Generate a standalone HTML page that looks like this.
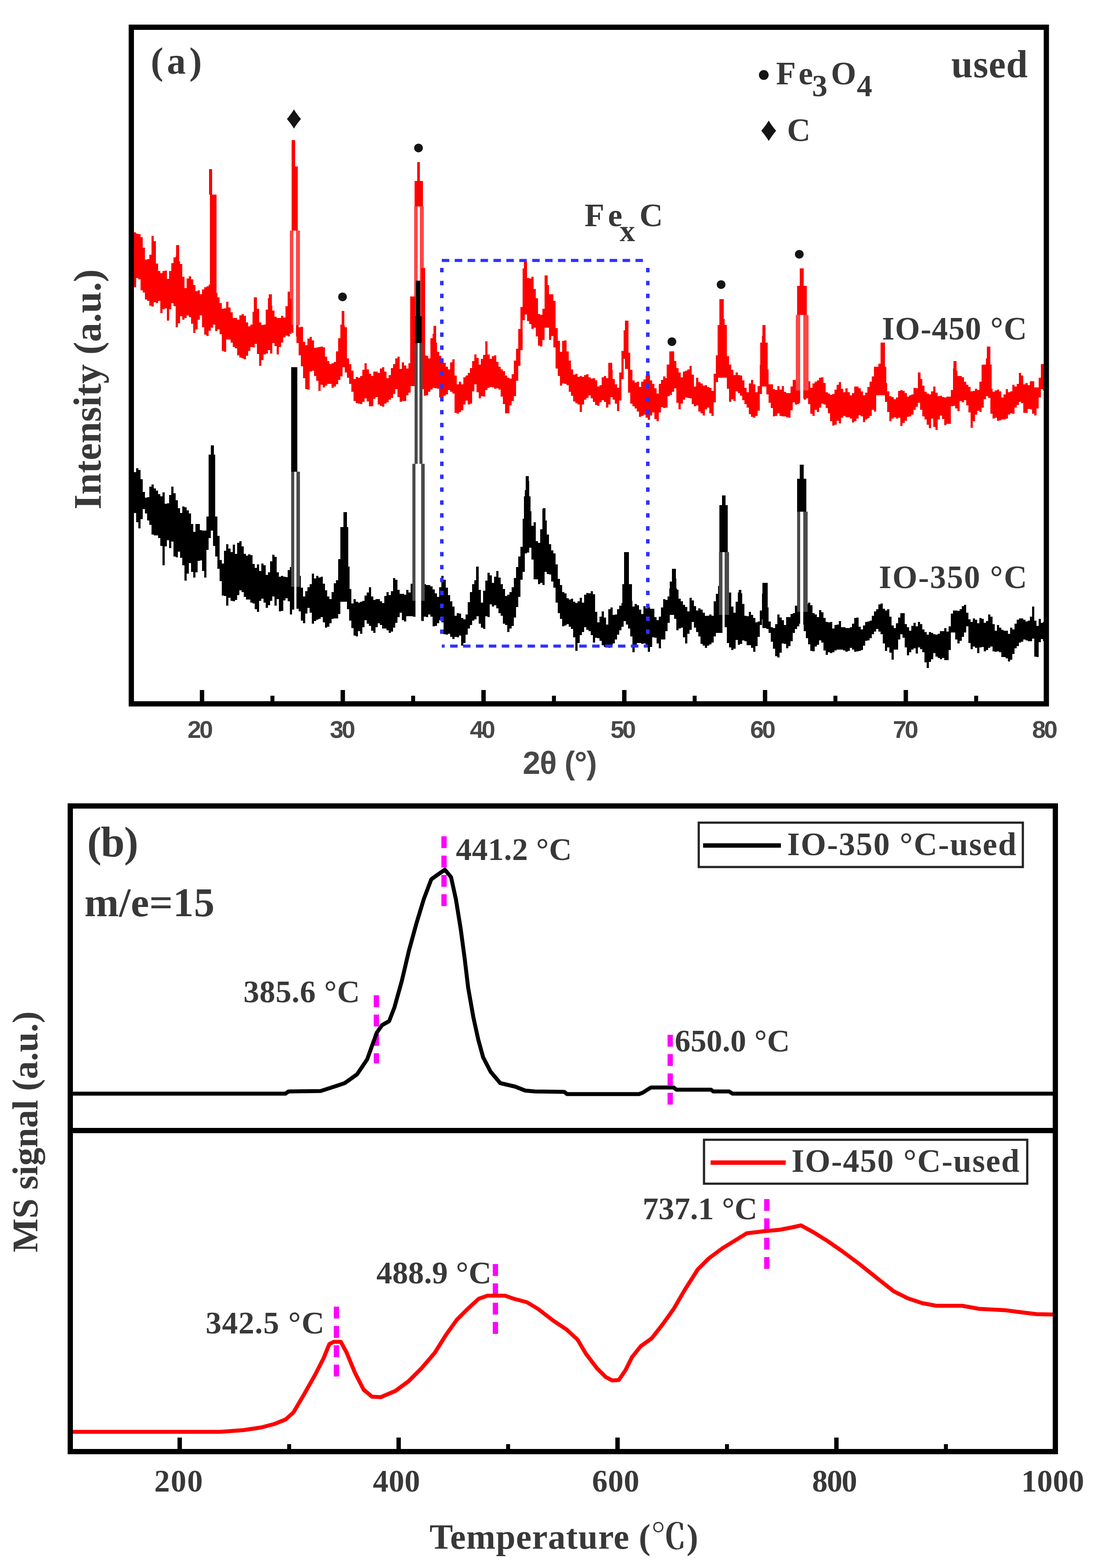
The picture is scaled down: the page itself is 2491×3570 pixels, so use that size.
<!DOCTYPE html>
<html lang="en"><head><meta charset="utf-8"><title>XRD patterns and TPH-MS profiles</title>
<style>html,body{margin:0;padding:0;background:#fff}body{width:2491px;height:3570px;overflow:hidden}svg{display:block}.s{font-family:"Liberation Serif","Noto Serif CJK SC",serif;font-weight:bold;fill:#000;fill-opacity:.78}.m{font-family:"Liberation Serif","DejaVu Sans",serif;font-weight:bold;fill:#000;fill-opacity:.92}.n{font-family:"Liberation Sans","Noto Sans CJK SC",sans-serif;font-weight:bold;fill:#000;fill-opacity:.72}</style></head><body>
<svg width="2491" height="3570" viewBox="0 0 2491 3570">
<rect width="2491" height="3570" fill="#fff"/>
<g id="chart-a">
<path d="M300 518L300 518 L305 518L305 529 L310 529L310 532 L315 532L315 533 L320 533L320 540 L325 540L325 564 L330 564L330 591 L335 591L335 590 L340 590L340 580 L345 580L345 537 L350 537L350 549 L355 549L355 600 L360 600L360 617 L365 617L365 622 L370 622L370 617 L375 617L375 616 L380 616L380 635 L385 635L385 617 L390 617L390 599 L395 599L395 586 L400 586L400 582 L405 582L405 595 L410 595L410 601 L415 601L415 630 L420 630L420 656 L425 656L425 634 L430 634L430 629 L435 629L435 636 L440 636L440 649 L445 649L445 663 L450 663L450 661 L455 661L455 670 L460 670L460 659 L465 659L465 654 L470 654L470 652 L475 652L475 648 L480 648L480 642 L485 642L485 649 L490 649L490 667 L495 667L495 677 L500 677L500 690 L505 690L505 703 L510 703L510 702 L515 702L515 687 L520 687L520 700 L525 700L525 711 L530 711L530 724 L535 724L535 724 L540 724L540 728 L545 728L545 718 L550 718L550 715 L555 715L555 719 L560 719L560 734 L565 734L565 743 L570 743L570 739 L575 739L575 710 L580 710L580 682 L585 682L585 703 L590 703L590 734 L595 734L595 740 L600 740L600 739 L605 739L605 705 L610 705L610 679 L615 679L615 696 L620 696L620 707 L625 707L625 721 L630 721L630 724 L635 724L635 724 L640 724L640 719 L645 719L645 723 L650 723L650 697 L655 697L655 664 L660 664L660 651 L665 651L665 663 L670 663L670 679 L675 679L675 703 L680 703L680 745 L685 745L685 744 L690 744L690 778 L695 778L695 786 L700 786L700 771 L705 771L705 767 L710 767L710 775 L715 775L715 792 L720 792L720 791 L725 791L725 790 L730 790L730 789 L735 789L735 791 L740 791L740 812 L745 812L745 822 L750 822L750 829 L755 829L755 827 L760 827L760 824 L765 824L765 800 L770 800L770 770 L775 770L775 739 L780 739L780 741 L785 741L785 783 L790 783L790 816 L795 816L795 829 L800 829L800 844 L805 844L805 863 L810 863L810 858 L815 858L815 860 L820 860L820 856 L825 856L825 842 L830 842L830 827 L835 827L835 841 L840 841L840 851 L845 851L845 856 L850 856L850 846 L855 846L855 846 L860 846L860 849 L865 849L865 839 L870 839L870 836 L875 836L875 846 L880 846L880 861 L885 861L885 854 L890 854L890 838 L895 838L895 829 L900 829L900 816 L905 816L905 812 L910 812L910 840 L915 840L915 825 L920 825L920 832 L925 832L925 839 L930 839L930 827 L935 827L935 809 L940 809L940 809 L945 809L945 809 L950 809L950 828 L955 828L955 828 L960 828L960 815 L965 815L965 809 L970 809L970 810 L975 810L975 816 L980 816L980 770 L985 770L985 760 L990 760L990 780 L995 780L995 801 L1000 801L1000 810 L1005 810L1005 816 L1010 816L1010 826 L1015 826L1015 835 L1020 835L1020 841 L1025 841L1025 825 L1030 825L1030 818 L1035 818L1035 855 L1040 855L1040 875 L1045 875L1045 869 L1050 869L1050 875 L1055 875L1055 859 L1060 859L1060 855 L1065 855L1065 849 L1070 849L1070 838 L1075 838L1075 822 L1080 822L1080 807 L1085 807L1085 815 L1090 815L1090 830 L1095 830L1095 817 L1100 817L1100 808 L1105 808L1105 777 L1110 777L1110 807 L1115 807L1115 817 L1120 817L1120 811 L1125 811L1125 809 L1130 809L1130 824 L1135 824L1135 835 L1140 835L1140 841 L1145 841L1145 845 L1150 845L1150 855 L1155 855L1155 860 L1160 860L1160 862 L1165 862L1165 852 L1170 852L1170 821 L1175 821L1175 794 L1180 794L1180 749 L1185 749L1185 699 L1190 699L1190 611 L1195 611L1195 600 L1200 600L1200 633 L1205 633L1205 634 L1210 634L1210 630 L1215 630L1215 658 L1220 658L1220 679 L1225 679L1225 715 L1230 715L1230 717 L1235 717L1235 703 L1240 703L1240 660 L1245 660L1245 649 L1250 649L1250 670 L1255 670L1255 670 L1260 670L1260 685 L1265 685L1265 747 L1270 747L1270 776 L1275 776L1275 801 L1280 801L1280 776 L1285 776L1285 775 L1290 775L1290 800 L1295 800L1295 821 L1300 821L1300 841 L1305 841L1305 853 L1310 853L1310 851 L1315 851L1315 858 L1320 858L1320 856 L1325 856L1325 858 L1330 858L1330 854 L1335 854L1335 852 L1340 852L1340 859 L1345 859L1345 862 L1350 862L1350 861 L1355 861L1355 866 L1360 866L1360 880 L1365 880L1365 877 L1370 877L1370 859 L1375 859L1375 856 L1380 856L1380 861 L1385 861L1385 851 L1390 851L1390 842 L1395 842L1395 863 L1400 863L1400 875 L1405 875L1405 883 L1410 883L1410 848 L1415 848L1415 799 L1420 799L1420 752 L1425 752L1425 740 L1430 740L1430 803 L1435 803L1435 842 L1440 842L1440 866 L1445 866L1445 871 L1450 871L1450 869 L1455 869L1455 881 L1460 881L1460 869 L1465 869L1465 864 L1470 864L1470 855 L1475 855L1475 854 L1480 854L1480 866 L1485 866L1485 874 L1490 874L1490 884 L1495 884L1495 896 L1500 896L1500 874 L1505 874L1505 865 L1510 865L1510 857 L1515 857L1515 861 L1520 861L1520 843 L1525 843L1525 824 L1530 824L1530 825 L1535 825L1535 822 L1540 822L1540 838 L1545 838L1545 848 L1550 848L1550 859 L1555 859L1555 846 L1560 846L1560 844 L1565 844L1565 841 L1570 841L1570 833 L1575 833L1575 853 L1580 853L1580 880 L1585 880L1585 860 L1590 860L1590 870 L1595 870L1595 873 L1600 873L1600 878 L1605 878L1605 877 L1610 877L1610 881 L1615 881L1615 883 L1620 883L1620 890 L1625 890L1625 851 L1630 851L1630 809 L1635 809L1635 770 L1640 770L1640 694 L1645 694L1645 726 L1650 726L1650 758 L1655 758L1655 811 L1660 811L1660 830 L1665 830L1665 842 L1670 842L1670 854 L1675 854L1675 848 L1680 848L1680 854 L1685 854L1685 855 L1690 855L1690 866 L1695 866L1695 883 L1700 883L1700 893 L1705 893L1705 873 L1710 873L1710 865 L1715 865L1715 875 L1720 875L1720 893 L1725 893L1725 879 L1730 879L1730 831 L1735 831L1735 765 L1740 765L1740 786 L1745 786L1745 841 L1750 841L1750 875 L1755 875L1755 875 L1760 875L1760 886 L1765 886L1765 888 L1770 888L1770 879 L1775 879L1775 887 L1780 887L1780 879 L1785 879L1785 892 L1790 892L1790 895 L1795 895L1795 895 L1800 895L1800 880 L1805 880L1805 865 L1810 865L1810 865 L1815 865L1815 860 L1820 860L1820 860 L1825 860L1825 860 L1830 860L1830 873 L1835 873L1835 871 L1840 871L1840 868 L1845 868L1845 883 L1850 883L1850 873 L1855 873L1855 869 L1860 869L1860 866 L1865 866L1865 860 L1870 860L1870 859 L1875 859L1875 872 L1880 872L1880 893 L1885 893L1885 896 L1890 896L1890 899 L1895 899L1895 897 L1900 897L1900 887 L1905 887L1905 876 L1910 876L1910 870 L1915 870L1915 885 L1920 885L1920 893 L1925 893L1925 884 L1930 884L1930 893 L1935 893L1935 900 L1940 900L1940 895 L1945 895L1945 880 L1950 880L1950 880 L1955 880L1955 884 L1960 884L1960 891 L1965 891L1965 900 L1970 900L1970 894 L1975 894L1975 881 L1980 881L1980 869 L1985 869L1985 857 L1990 857L1990 846 L1995 846L1995 837 L2000 837L2000 828 L2005 828L2005 802 L2010 802L2010 819 L2015 819L2015 872 L2020 872L2020 891 L2025 891L2025 902 L2030 902L2030 904 L2035 904L2035 909 L2040 909L2040 905 L2045 905L2045 890 L2050 890L2050 888 L2055 888L2055 890 L2060 890L2060 895 L2065 895L2065 903 L2070 903L2070 900 L2075 900L2075 898 L2080 898L2080 883 L2085 883L2085 884 L2090 884L2090 863 L2095 863L2095 863 L2100 863L2100 878 L2105 878L2105 892 L2110 892L2110 896 L2115 896L2115 898 L2120 898L2120 891 L2125 891L2125 880 L2130 880L2130 894 L2135 894L2135 902 L2140 902L2140 901 L2145 901L2145 904 L2150 904L2150 905 L2155 905L2155 903 L2160 903L2160 903 L2165 903L2165 888 L2170 888L2170 839 L2175 839L2175 844 L2180 844L2180 856 L2185 856L2185 856 L2190 856L2190 859 L2195 859L2195 869 L2200 869L2200 876 L2205 876L2205 881 L2210 881L2210 891 L2215 891L2215 890 L2220 890L2220 885 L2225 885L2225 888 L2230 888L2230 869 L2235 869L2235 831 L2240 831L2240 833 L2245 833L2245 816 L2250 816L2250 818 L2255 818L2255 885 L2260 885L2260 892 L2265 892L2265 889 L2270 889L2270 887 L2275 887L2275 891 L2280 891L2280 905 L2285 905L2285 898 L2290 898L2290 886 L2295 886L2295 893 L2300 893L2300 891 L2305 891L2305 876 L2310 876L2310 880 L2315 880L2315 874 L2320 874L2320 849 L2325 849L2325 855 L2330 855L2330 875 L2335 875L2335 872 L2340 872L2340 877 L2345 877L2345 868 L2350 868L2350 868 L2355 868L2355 882 L2360 882L2360 882 L2365 882L2365 860 L2370 860L2370 829 L2375 829L2375 829 L2380 829L2380 829 L2382 829L2382 889 L2380 889L2380 889 L2375 889L2375 886 L2370 886L2370 905 L2365 905L2365 930 L2360 930L2360 946 L2355 946L2355 942 L2350 942L2350 932 L2345 932L2345 931 L2340 931L2340 940 L2335 940L2335 940 L2330 940L2330 918 L2325 918L2325 915 L2320 915L2320 922 L2315 922L2315 928 L2310 928L2310 942 L2305 942L2305 941 L2300 941L2300 944 L2295 944L2295 953 L2290 953L2290 955 L2285 955L2285 955 L2280 955L2280 957 L2275 957L2275 958 L2270 958L2270 951 L2265 951L2265 953 L2260 953L2260 942 L2255 942L2255 906 L2250 906L2250 902 L2245 902L2245 909 L2240 909L2240 928 L2235 928L2235 938 L2230 938L2230 935 L2225 935L2225 944 L2220 944L2220 959 L2215 959L2215 974 L2210 974L2210 939 L2205 939L2205 923 L2200 923L2200 911 L2195 911L2195 916 L2190 916L2190 913 L2185 913L2185 936 L2180 936L2180 930 L2175 930L2175 924 L2170 924L2170 925 L2165 925L2165 965 L2160 965L2160 965 L2155 965L2155 968 L2150 968L2150 954 L2145 954L2145 946 L2140 946L2140 955 L2135 955L2135 979 L2130 979L2130 972 L2125 972L2125 953 L2120 953L2120 975 L2115 975L2115 967 L2110 967L2110 955 L2105 955L2105 948 L2100 948L2100 933 L2095 933L2095 917 L2090 917L2090 926 L2085 926L2085 933 L2080 933L2080 944 L2075 944L2075 948 L2070 948L2070 949 L2065 949L2065 958 L2060 958L2060 963 L2055 963L2055 970 L2050 970L2050 951 L2045 951L2045 953 L2040 953L2040 950 L2035 950L2035 953 L2030 953L2030 959 L2025 959L2025 938 L2020 938L2020 915 L2015 915L2015 880 L2010 880L2010 867 L2005 867L2005 870 L2000 870L2000 894 L1995 894L1995 937 L1990 937L1990 933 L1985 933L1985 947 L1980 947L1980 952 L1975 952L1975 955 L1970 955L1970 961 L1965 961L1965 948 L1960 948L1960 945 L1955 945L1955 953 L1950 953L1950 959 L1945 959L1945 962 L1940 962L1940 953 L1935 953L1935 950 L1930 950L1930 950 L1925 950L1925 947 L1920 947L1920 951 L1915 951L1915 964 L1910 964L1910 958 L1905 958L1905 967 L1900 967L1900 969 L1895 969L1895 959 L1890 959L1890 941 L1885 941L1885 929 L1880 929L1880 921 L1875 921L1875 919 L1870 919L1870 928 L1865 928L1865 938 L1860 938L1860 933 L1855 933L1855 947 L1850 947L1850 942 L1845 942L1845 920 L1840 920L1840 907 L1835 907L1835 910 L1830 910L1830 907 L1825 907L1825 917 L1820 917L1820 920 L1815 920L1815 921 L1810 921L1810 916 L1805 916L1805 934 L1800 934L1800 951 L1795 951L1795 950 L1790 950L1790 948 L1785 948L1785 948 L1780 948L1780 947 L1775 947L1775 941 L1770 941L1770 947 L1765 947L1765 948 L1760 948L1760 929 L1755 929L1755 917 L1750 917L1750 898 L1745 898L1745 849 L1740 849L1740 844 L1735 844L1735 897 L1730 897L1730 935 L1725 935L1725 947 L1720 947L1720 951 L1715 951L1715 949 L1710 949L1710 943 L1705 943L1705 928 L1700 928L1700 920 L1695 920L1695 911 L1690 911L1690 901 L1685 901L1685 895 L1680 895L1680 891 L1675 891L1675 913 L1670 913L1670 909 L1665 909L1665 915 L1660 915L1660 885 L1655 885L1655 834 L1650 834L1650 815 L1645 815L1645 802 L1640 802L1640 837 L1635 837L1635 870 L1630 870L1630 916 L1625 916L1625 947 L1620 947L1620 941 L1615 941L1615 928 L1610 928L1610 932 L1605 932L1605 946 L1600 946L1600 941 L1595 941L1595 937 L1590 937L1590 923 L1585 923L1585 925 L1580 925L1580 920 L1575 920L1575 907 L1570 907L1570 906 L1565 906L1565 905 L1560 905L1560 910 L1555 910L1555 919 L1550 919L1550 932 L1545 932L1545 917 L1540 917L1540 884 L1535 884L1535 892 L1530 892L1530 899 L1525 899L1525 902 L1520 902L1520 928 L1515 928L1515 929 L1510 929L1510 927 L1505 927L1505 939 L1500 939L1500 959 L1495 959L1495 954 L1490 954L1490 939 L1485 939L1485 946 L1480 946L1480 956 L1475 956L1475 951 L1470 951L1470 944 L1465 944L1465 947 L1460 947L1460 949 L1455 949L1455 937 L1450 937L1450 930 L1445 930L1445 925 L1440 925L1440 919 L1435 919L1435 894 L1430 894L1430 811 L1425 811L1425 817 L1420 817L1420 863 L1415 863L1415 912 L1410 912L1410 936 L1405 936L1405 919 L1400 919L1400 910 L1395 910L1395 904 L1390 904L1390 921 L1385 921L1385 928 L1380 928L1380 915 L1375 915L1375 911 L1370 911L1370 916 L1365 916L1365 924 L1360 924L1360 922 L1355 922L1355 915 L1350 915L1350 907 L1345 907L1345 900 L1340 900L1340 906 L1335 906L1335 910 L1330 910L1330 921 L1325 921L1325 938 L1320 938L1320 921 L1315 921L1315 918 L1310 918L1310 914 L1305 914L1305 901 L1300 901L1300 892 L1295 892L1295 877 L1290 877L1290 874 L1285 874L1285 873 L1280 873L1280 878 L1275 878L1275 856 L1270 856L1270 839 L1265 839L1265 791 L1260 791L1260 765 L1255 765L1255 774 L1250 774L1250 746 L1245 746L1245 746 L1240 746L1240 774 L1235 774L1235 789 L1230 789L1230 787 L1225 787L1225 766 L1220 766L1220 746 L1215 746L1215 749 L1210 749L1210 738 L1205 738L1205 731 L1200 731L1200 716 L1195 716L1195 729 L1190 729L1190 797 L1185 797L1185 833 L1180 833L1180 867 L1175 867L1175 902 L1170 902L1170 913 L1165 913L1165 923 L1160 923L1160 941 L1155 941L1155 941 L1150 941L1150 920 L1145 920L1145 903 L1140 903L1140 887 L1135 887L1135 884 L1130 884L1130 885 L1125 885L1125 882 L1120 882L1120 881 L1115 881L1115 883 L1110 883L1110 888 L1105 888L1105 903 L1100 903L1100 902 L1095 902L1095 907 L1090 907L1090 893 L1085 893L1085 875 L1080 875L1080 891 L1075 891L1075 919 L1070 919L1070 921 L1065 921L1065 912 L1060 912L1060 921 L1055 921L1055 934 L1050 934L1050 938 L1045 938L1045 942 L1040 942L1040 940 L1035 940L1035 896 L1030 896L1030 892 L1025 892L1025 888 L1020 888L1020 898 L1015 898L1015 901 L1010 901L1010 906 L1005 906L1005 905 L1000 905L1000 885 L995 885L995 884 L990 884L990 883 L985 883L985 887 L980 887L980 892 L975 892L975 900 L970 900L970 901 L965 901L965 886 L960 886L960 884 L955 884L955 881 L950 881L950 881 L945 881L945 879 L940 879L940 879 L935 879L935 894 L930 894L930 900 L925 900L925 913 L920 913L920 913 L915 913L915 915 L910 915L910 904 L905 904L905 886 L900 886L900 897 L895 897L895 906 L890 906L890 910 L885 910L885 916 L880 916L880 919 L875 919L875 926 L870 926L870 924 L865 924L865 921 L860 921L860 904 L855 904L855 908 L850 908L850 925 L845 925L845 925 L840 925L840 914 L835 914L835 907 L830 907L830 915 L825 915L825 920 L820 920L820 919 L815 919L815 918 L810 918L810 913 L805 913L805 892 L800 892L800 874 L795 874L795 860 L790 860L790 848 L785 848L785 836 L780 836L780 857 L775 857L775 865 L770 865L770 875 L765 875L765 880 L760 880L760 883 L755 883L755 874 L750 874L750 874 L745 874L745 878 L740 878L740 882 L735 882L735 876 L730 876L730 890 L725 890L725 867 L720 867L720 856 L715 856L715 844 L710 844L710 846 L705 846L705 887 L700 887L700 886 L695 886L695 861 L690 861L690 834 L685 834L685 809 L680 809L680 781 L675 781L675 766 L670 766L670 758 L665 758L665 756 L660 756L660 766 L655 766L655 764 L650 764L650 768 L645 768L645 780 L640 780L640 790 L635 790L635 807 L630 807L630 788 L625 788L625 781 L620 781L620 805 L615 805L615 797 L610 797L610 805 L605 805L605 807 L600 807L600 820 L595 820L595 833 L590 833L590 806 L585 806L585 783 L580 783L580 791 L575 791L575 790 L570 790L570 799 L565 799L565 810 L560 810L560 818 L555 818L555 816 L550 816L550 814 L545 814L545 809 L540 809L540 793 L535 793L535 790 L530 790L530 780 L525 780L525 773 L520 773L520 773 L515 773L515 801 L510 801L510 799 L505 799L505 761 L500 761L500 750 L495 750L495 754 L490 754L490 739 L485 739L485 746 L480 746L480 753 L475 753L475 765 L470 765L470 762 L465 762L465 745 L460 745L460 718 L455 718L455 728 L450 728L450 750 L445 750L445 758 L440 758L440 737 L435 737L435 722 L430 722L430 718 L425 718L425 724 L420 724L420 728 L415 728L415 720 L410 720L410 736 L405 736L405 745 L400 745L400 697 L395 697L395 690 L390 690L390 704 L385 704L385 730 L380 730L380 702 L375 702L375 704 L370 704L370 713 L365 713L365 685 L360 685L360 690 L355 690L355 688 L350 688L350 698 L345 698L345 696 L340 696L340 685 L335 685L335 682 L330 682L330 666 L325 666L325 661 L320 661L320 636 L315 636L315 633 L310 633L310 654 L305 654L305 659 L300 659Z" fill="#ff0000"/>
<rect x="476" y="385" width="7" height="58" fill="#ff0000"/><rect x="478" y="443" width="15" height="247" fill="#ff0000"/>
<rect x="668" y="525" width="6" height="271" fill="#fff"/><rect x="664" y="319" width="8" height="60" fill="#ff0000"/><rect x="664" y="379" width="14" height="146" fill="#ff0000"/><rect x="668" y="525" width="6" height="215" fill="#fff"/><rect x="660" y="525" width="8" height="215" fill="#ff4646"/><rect x="674" y="525" width="9" height="215" fill="#ff4646"/>
<rect x="655" y="680" width="9" height="80" fill="#ff0000"/>
<rect x="778" y="708" width="6" height="37" fill="#ff0000"/><rect x="775" y="745" width="15" height="65" fill="#ff0000"/>
<rect x="951" y="470" width="5" height="451" fill="#fff"/><rect x="950" y="369" width="6" height="43" fill="#ff0000"/><rect x="944" y="412" width="19" height="58" fill="#ff0000"/><rect x="951" y="470" width="5" height="381" fill="#fff"/><rect x="943" y="470" width="8" height="381" fill="#ff4646"/><rect x="956" y="470" width="9" height="381" fill="#ff4646"/>
<rect x="934" y="675" width="12" height="176" fill="#ff0000"/>
<rect x="959" y="610" width="9" height="244" fill="#ff0000"/>
<rect x="987" y="742" width="6" height="88" fill="#ff0000"/>
<rect x="1423" y="730" width="8" height="110" fill="#ff0000"/>
<rect x="1385" y="826" width="9" height="54" fill="#ff0000"/>
<rect x="1524" y="800" width="11" height="30" fill="#ff0000"/><rect x="1518" y="830" width="22" height="40" fill="#ff0000"/>
<rect x="1638" y="681" width="10" height="59" fill="#ff0000"/><rect x="1634" y="740" width="21" height="120" fill="#ff0000"/>
<rect x="1736" y="740" width="7" height="40" fill="#ff0000"/><rect x="1731" y="780" width="17" height="100" fill="#ff0000"/>
<rect x="1822" y="717" width="7" height="230" fill="#fff"/><rect x="1821" y="611" width="9" height="40" fill="#ff0000"/><rect x="1815" y="651" width="22" height="66" fill="#ff0000"/><rect x="1822" y="717" width="7" height="172" fill="#fff"/><rect x="1812" y="717" width="10" height="172" fill="#ff4646"/><rect x="1829" y="717" width="12" height="172" fill="#ff4646"/>
<rect x="2005" y="780" width="10" height="55" fill="#ff0000"/><rect x="1990" y="835" width="28" height="65" fill="#ff0000"/>
<rect x="2247" y="789" width="8" height="41" fill="#ff0000"/><rect x="2237" y="830" width="21" height="70" fill="#ff0000"/>
<rect x="2171" y="822" width="7" height="68" fill="#ff0000"/>
<rect x="2090" y="848" width="6" height="52" fill="#ff0000"/>
<rect x="578" y="677" width="7" height="83" fill="#ff0000"/>
<rect x="401" y="558" width="7" height="92" fill="#ff0000"/>
<rect x="343" y="610" width="7" height="70" fill="#ff0000"/>
<rect x="612" y="670" width="7" height="70" fill="#ff0000"/>
<rect x="1193" y="594" width="7" height="46" fill="#ff0000"/><rect x="1190" y="640" width="16" height="60" fill="#ff0000"/>
<rect x="1240" y="627" width="7" height="73" fill="#ff0000"/>
<path d="M300 1046L300 1046 L305 1046L305 1075 L310 1075L310 1066 L315 1066L315 1070 L320 1070L320 1091 L325 1091L325 1120 L330 1120L330 1133 L335 1133L335 1132 L340 1132L340 1108 L345 1108L345 1103 L350 1103L350 1112 L355 1112L355 1117 L360 1117L360 1125 L365 1125L365 1130 L370 1130L370 1121 L375 1121L375 1147 L380 1147L380 1146 L385 1146L385 1127 L390 1127L390 1108 L395 1108L395 1123 L400 1123L400 1139 L405 1139L405 1157 L410 1157L410 1168 L415 1168L415 1153 L420 1153L420 1155 L425 1155L425 1162 L430 1162L430 1169 L435 1169L435 1193 L440 1193L440 1211 L445 1211L445 1193 L450 1193L450 1193 L455 1193L455 1207 L460 1207L460 1208 L465 1208L465 1208 L470 1208L470 1176 L475 1176L475 1158 L480 1158L480 1149 L485 1149L485 1161 L490 1161L490 1176 L495 1176L495 1220 L500 1220L500 1275 L505 1275L505 1283 L510 1283L510 1254 L515 1254L515 1239 L520 1239L520 1249 L525 1249L525 1257 L530 1257L530 1240 L535 1240L535 1261 L540 1261L540 1236 L545 1236L545 1232 L550 1232L550 1244 L555 1244L555 1261 L560 1261L560 1265 L565 1265L565 1262 L570 1262L570 1264 L575 1264L575 1284 L580 1284L580 1293 L585 1293L585 1285 L590 1285L590 1300 L595 1300L595 1283 L600 1283L600 1287 L605 1287L605 1309 L610 1309L610 1303 L615 1303L615 1278 L620 1278L620 1263 L625 1263L625 1268 L630 1268L630 1303 L635 1303L635 1313 L640 1313L640 1311 L645 1311L645 1313 L650 1313L650 1314 L655 1314L655 1298 L660 1298L660 1291 L665 1291L665 1291 L670 1291L670 1298 L675 1298L675 1302 L680 1302L680 1311 L685 1311L685 1338 L690 1338L690 1358 L695 1358L695 1346 L700 1346L700 1337 L705 1337L705 1330 L710 1330L710 1306 L715 1306L715 1317 L720 1317L720 1311 L725 1311L725 1315 L730 1315L730 1313 L735 1313L735 1329 L740 1329L740 1344 L745 1344L745 1358 L750 1358L750 1364 L755 1364L755 1348 L760 1348L760 1328 L765 1328L765 1321 L770 1321L770 1273 L775 1273L775 1231 L780 1231L780 1203 L785 1203L785 1212 L790 1212L790 1294 L795 1294L795 1341 L800 1341L800 1374 L805 1374L805 1364 L810 1364L810 1370 L815 1370L815 1372 L820 1372L820 1370 L825 1370L825 1368 L830 1368L830 1356 L835 1356L835 1349 L840 1349L840 1337 L845 1337L845 1358 L850 1358L850 1366 L855 1366L855 1364 L860 1364L860 1364 L865 1364L865 1369 L870 1369L870 1373 L875 1373L875 1357 L880 1357L880 1348 L885 1348L885 1355 L890 1355L890 1346 L895 1346L895 1316 L900 1316L900 1320 L905 1320L905 1343 L910 1343L910 1352 L915 1352L915 1352 L920 1352L920 1354 L925 1354L925 1343 L930 1343L930 1349 L935 1349L935 1329 L940 1329L940 1323 L945 1323L945 1327 L950 1327L950 1340 L955 1340L955 1341 L960 1341L960 1326 L965 1326L965 1330 L970 1330L970 1332 L975 1332L975 1332 L980 1332L980 1335 L985 1335L985 1342 L990 1342L990 1351 L995 1351L995 1359 L1000 1359L1000 1337 L1005 1337L1005 1311 L1010 1311L1010 1320 L1015 1320L1015 1338 L1020 1338L1020 1355 L1025 1355L1025 1369 L1030 1369L1030 1381 L1035 1381L1035 1402 L1040 1402L1040 1396 L1045 1396L1045 1397 L1050 1397L1050 1407 L1055 1407L1055 1410 L1060 1410L1060 1399 L1065 1399L1065 1371 L1070 1371L1070 1348 L1075 1348L1075 1330 L1080 1330L1080 1321 L1085 1321L1085 1314 L1090 1314L1090 1343 L1095 1343L1095 1372 L1100 1372L1100 1345 L1105 1345L1105 1322 L1110 1322L1110 1304 L1115 1304L1115 1310 L1120 1310L1120 1327 L1125 1327L1125 1313 L1130 1313L1130 1300 L1135 1300L1135 1315 L1140 1315L1140 1330 L1145 1330L1145 1341 L1150 1341L1150 1357 L1155 1357L1155 1354 L1160 1354L1160 1348 L1165 1348L1165 1337 L1170 1337L1170 1316 L1175 1316L1175 1291 L1180 1291L1180 1267 L1185 1267L1185 1245 L1190 1245L1190 1181 L1195 1181L1195 1116 L1200 1116L1200 1095 L1205 1095L1205 1164 L1210 1164L1210 1197 L1215 1197L1215 1189 L1220 1189L1220 1232 L1225 1232L1225 1236 L1230 1236L1230 1205 L1235 1205L1235 1159 L1240 1159L1240 1185 L1245 1185L1245 1217 L1250 1217L1250 1239 L1255 1239L1255 1253 L1260 1253L1260 1260 L1265 1260L1265 1285 L1270 1285L1270 1318 L1275 1318L1275 1332 L1280 1332L1280 1348 L1285 1348L1285 1351 L1290 1351L1290 1362 L1295 1362L1295 1365 L1300 1365L1300 1363 L1305 1363L1305 1370 L1310 1370L1310 1373 L1315 1373L1315 1369 L1320 1369L1320 1361 L1325 1361L1325 1372 L1330 1372L1330 1354 L1335 1354L1335 1350 L1340 1350L1340 1351 L1345 1351L1345 1346 L1350 1346L1350 1353 L1355 1353L1355 1393 L1360 1393L1360 1417 L1365 1417L1365 1404 L1370 1404L1370 1392 L1375 1392L1375 1406 L1380 1406L1380 1422 L1385 1422L1385 1387 L1390 1387L1390 1383 L1395 1383L1395 1400 L1400 1400L1400 1399 L1405 1399L1405 1387 L1410 1387L1410 1379 L1415 1379L1415 1373 L1420 1373L1420 1370 L1425 1370L1425 1348 L1430 1348L1430 1358 L1435 1358L1435 1368 L1440 1368L1440 1381 L1445 1381L1445 1375 L1450 1375L1450 1378 L1455 1378L1455 1388 L1460 1388L1460 1398 L1465 1398L1465 1380 L1470 1380L1470 1385 L1475 1385L1475 1382 L1480 1382L1480 1386 L1485 1386L1485 1386 L1490 1386L1490 1405 L1495 1405L1495 1412 L1500 1412L1500 1404 L1505 1404L1505 1383 L1510 1383L1510 1364 L1515 1364L1515 1366 L1520 1366L1520 1358 L1525 1358L1525 1324 L1530 1324L1530 1300 L1535 1300L1535 1317 L1540 1317L1540 1343 L1545 1343L1545 1363 L1550 1363L1550 1369 L1555 1369L1555 1377 L1560 1377L1560 1382 L1565 1382L1565 1392 L1570 1392L1570 1361 L1575 1361L1575 1367 L1580 1367L1580 1380 L1585 1380L1585 1390 L1590 1390L1590 1385 L1595 1385L1595 1388 L1600 1388L1600 1395 L1605 1395L1605 1402 L1610 1402L1610 1402 L1615 1402L1615 1399 L1620 1399L1620 1402 L1625 1402L1625 1369 L1630 1369L1630 1352 L1635 1352L1635 1334 L1640 1334L1640 1340 L1645 1340L1645 1340 L1650 1340L1650 1341 L1655 1341L1655 1357 L1660 1357L1660 1349 L1665 1349L1665 1381 L1670 1381L1670 1395 L1675 1395L1675 1370 L1680 1370L1680 1349 L1685 1349L1685 1351 L1690 1351L1690 1375 L1695 1375L1695 1402 L1700 1402L1700 1403 L1705 1403L1705 1393 L1710 1393L1710 1400 L1715 1400L1715 1407 L1720 1407L1720 1417 L1725 1417L1725 1415 L1730 1415L1730 1390 L1735 1390L1735 1352 L1740 1352L1740 1352 L1745 1352L1745 1383 L1750 1383L1750 1415 L1755 1415L1755 1428 L1760 1428L1760 1430 L1765 1430L1765 1421 L1770 1421L1770 1399 L1775 1399L1775 1406 L1780 1406L1780 1412 L1785 1412L1785 1423 L1790 1423L1790 1405 L1795 1405L1795 1405 L1800 1405L1800 1398 L1805 1398L1805 1396 L1810 1396L1810 1379 L1815 1379L1815 1363 L1820 1363L1820 1369 L1825 1369L1825 1369 L1830 1369L1830 1372 L1835 1372L1835 1375 L1840 1375L1840 1372 L1845 1372L1845 1378 L1850 1378L1850 1396 L1855 1396L1855 1399 L1860 1399L1860 1405 L1865 1405L1865 1389 L1870 1389L1870 1394 L1875 1394L1875 1407 L1880 1407L1880 1416 L1885 1416L1885 1417 L1890 1417L1890 1416 L1895 1416L1895 1431 L1900 1431L1900 1423 L1905 1423L1905 1422 L1910 1422L1910 1414 L1915 1414L1915 1428 L1920 1428L1920 1428 L1925 1428L1925 1430 L1930 1430L1930 1430 L1935 1430L1935 1428 L1940 1428L1940 1420 L1945 1420L1945 1407 L1950 1407L1950 1406 L1955 1406L1955 1427 L1960 1427L1960 1433 L1965 1433L1965 1424 L1970 1424L1970 1416 L1975 1416L1975 1415 L1980 1415L1980 1413 L1985 1413L1985 1402 L1990 1402L1990 1392 L1995 1392L1995 1387 L2000 1387L2000 1376 L2005 1376L2005 1374 L2010 1374L2010 1386 L2015 1386L2015 1390 L2020 1390L2020 1387 L2025 1387L2025 1404 L2030 1404L2030 1424 L2035 1424L2035 1430 L2040 1430L2040 1419 L2045 1419L2045 1406 L2050 1406L2050 1396 L2055 1396L2055 1396 L2060 1396L2060 1421 L2065 1421L2065 1428 L2070 1428L2070 1436 L2075 1436L2075 1425 L2080 1425L2080 1418 L2085 1418L2085 1426 L2090 1426L2090 1416 L2095 1416L2095 1421 L2100 1421L2100 1433 L2105 1433L2105 1439 L2110 1439L2110 1445 L2115 1445L2115 1439 L2120 1439L2120 1441 L2125 1441L2125 1444 L2130 1444L2130 1445 L2135 1445L2135 1443 L2140 1443L2140 1437 L2145 1437L2145 1437 L2150 1437L2150 1430 L2155 1430L2155 1438 L2160 1438L2160 1426 L2165 1426L2165 1397 L2170 1397L2170 1390 L2175 1390L2175 1390 L2180 1390L2180 1391 L2185 1391L2185 1387 L2190 1387L2190 1380 L2195 1380L2195 1377 L2200 1377L2200 1395 L2205 1395L2205 1410 L2210 1410L2210 1416 L2215 1416L2215 1408 L2220 1408L2220 1411 L2225 1411L2225 1419 L2230 1419L2230 1407 L2235 1407L2235 1409 L2240 1409L2240 1418 L2245 1418L2245 1414 L2250 1414L2250 1399 L2255 1399L2255 1404 L2260 1404L2260 1421 L2265 1421L2265 1436 L2270 1436L2270 1423 L2275 1423L2275 1429 L2280 1429L2280 1434 L2285 1434L2285 1436 L2290 1436L2290 1436 L2295 1436L2295 1443 L2300 1443L2300 1429 L2305 1429L2305 1433 L2310 1433L2310 1420 L2315 1420L2315 1411 L2320 1411L2320 1408 L2325 1408L2325 1408 L2330 1408L2330 1411 L2335 1411L2335 1415 L2340 1415L2340 1413 L2345 1413L2345 1404 L2350 1404L2350 1381 L2355 1381L2355 1413 L2360 1413L2360 1425 L2365 1425L2365 1409 L2370 1409L2370 1418 L2375 1418L2375 1416 L2380 1416L2380 1416 L2382 1416L2382 1451 L2380 1451L2380 1460 L2375 1460L2375 1455 L2370 1455L2370 1462 L2365 1462L2365 1496 L2360 1496L2360 1495 L2355 1495L2355 1454 L2350 1454L2350 1460 L2345 1460L2345 1460 L2340 1460L2340 1458 L2335 1458L2335 1456 L2330 1456L2330 1461 L2325 1461L2325 1463 L2320 1463L2320 1471 L2315 1471L2315 1476 L2310 1476L2310 1489 L2305 1489L2305 1502 L2300 1502L2300 1506 L2295 1506L2295 1499 L2290 1499L2290 1496 L2285 1496L2285 1496 L2280 1496L2280 1485 L2275 1485L2275 1483 L2270 1483L2270 1484 L2265 1484L2265 1483 L2260 1483L2260 1472 L2255 1472L2255 1475 L2250 1475L2250 1480 L2245 1480L2245 1483 L2240 1483L2240 1473 L2235 1473L2235 1474 L2230 1474L2230 1487 L2225 1487L2225 1475 L2220 1475L2220 1472 L2215 1472L2215 1478 L2210 1478L2210 1464 L2205 1464L2205 1426 L2200 1426L2200 1440 L2195 1440L2195 1450 L2190 1450L2190 1459 L2185 1459L2185 1465 L2180 1465L2180 1456 L2175 1456L2175 1440 L2170 1440L2170 1440 L2165 1440L2165 1480 L2160 1480L2160 1503 L2155 1503L2155 1503 L2150 1503L2150 1498 L2145 1498L2145 1501 L2140 1501L2140 1498 L2135 1498L2135 1495 L2130 1495L2130 1487 L2125 1487L2125 1501 L2120 1501L2120 1507 L2115 1507L2115 1521 L2110 1521L2110 1508 L2105 1508L2105 1485 L2100 1485L2100 1478 L2095 1478L2095 1474 L2090 1474L2090 1488 L2085 1488L2085 1476 L2080 1476L2080 1479 L2075 1479L2075 1485 L2070 1485L2070 1492 L2065 1492L2065 1474 L2060 1474L2060 1452 L2055 1452L2055 1444 L2050 1444L2050 1456 L2045 1456L2045 1479 L2040 1479L2040 1479 L2035 1479L2035 1502 L2030 1502L2030 1486 L2025 1486L2025 1474 L2020 1474L2020 1482 L2015 1482L2015 1465 L2010 1465L2010 1444 L2005 1444L2005 1438 L2000 1438L2000 1432 L1995 1432L1995 1438 L1990 1438L1990 1444 L1985 1444L1985 1453 L1980 1453L1980 1458 L1975 1458L1975 1459 L1970 1459L1970 1470 L1965 1470L1965 1480 L1960 1480L1960 1482 L1955 1482L1955 1483 L1950 1483L1950 1484 L1945 1484L1945 1479 L1940 1479L1940 1475 L1935 1475L1935 1482 L1930 1482L1930 1484 L1925 1484L1925 1481 L1920 1481L1920 1479 L1915 1479L1915 1479 L1910 1479L1910 1479 L1905 1479L1905 1481 L1900 1481L1900 1485 L1895 1485L1895 1487 L1890 1487L1890 1485 L1885 1485L1885 1491 L1880 1491L1880 1481 L1875 1481L1875 1463 L1870 1463L1870 1458 L1865 1458L1865 1468 L1860 1468L1860 1472 L1855 1472L1855 1483 L1850 1483L1850 1482 L1845 1482L1845 1467 L1840 1467L1840 1453 L1835 1453L1835 1437 L1830 1437L1830 1422 L1825 1422L1825 1420 L1820 1420L1820 1426 L1815 1426L1815 1432 L1810 1432L1810 1441 L1805 1441L1805 1460 L1800 1460L1800 1471 L1795 1471L1795 1476 L1790 1476L1790 1466 L1785 1466L1785 1465 L1780 1465L1780 1486 L1775 1486L1775 1497 L1770 1497L1770 1494 L1765 1494L1765 1477 L1760 1477L1760 1461 L1755 1461L1755 1441 L1750 1441L1750 1432 L1745 1432L1745 1412 L1740 1412L1740 1410 L1735 1410L1735 1423 L1730 1423L1730 1450 L1725 1450L1725 1471 L1720 1471L1720 1484 L1715 1484L1715 1475 L1710 1475L1710 1469 L1705 1469L1705 1469 L1700 1469L1700 1460 L1695 1460L1695 1458 L1690 1458L1690 1466 L1685 1466L1685 1468 L1680 1468L1680 1457 L1675 1457L1675 1477 L1670 1477L1670 1480 L1665 1480L1665 1474 L1660 1474L1660 1464 L1655 1464L1655 1428 L1650 1428L1650 1420 L1645 1420L1645 1441 L1640 1441L1640 1441 L1635 1441L1635 1441 L1630 1441L1630 1449 L1625 1449L1625 1463 L1620 1463L1620 1467 L1615 1467L1615 1470 L1610 1470L1610 1475 L1605 1475L1605 1470 L1600 1470L1600 1466 L1595 1466L1595 1449 L1590 1449L1590 1439 L1585 1439L1585 1429 L1580 1429L1580 1416 L1575 1416L1575 1434 L1570 1434L1570 1443 L1565 1443L1565 1465 L1560 1465L1560 1451 L1555 1451L1555 1429 L1550 1429L1550 1431 L1545 1431L1545 1435 L1540 1435L1540 1409 L1535 1409L1535 1387 L1530 1387L1530 1398 L1525 1398L1525 1418 L1520 1418L1520 1437 L1515 1437L1515 1456 L1510 1456L1510 1456 L1505 1456L1505 1476 L1500 1476L1500 1465 L1495 1465L1495 1452 L1490 1452L1490 1451 L1485 1451L1485 1473 L1480 1473L1480 1484 L1475 1484L1475 1469 L1470 1469L1470 1465 L1465 1465L1465 1466 L1460 1466L1460 1464 L1455 1464L1455 1464 L1450 1464L1450 1468 L1445 1468L1445 1485 L1440 1485L1440 1449 L1435 1449L1435 1431 L1430 1431L1430 1422 L1425 1422L1425 1414 L1420 1414L1420 1427 L1415 1427L1415 1435 L1410 1435L1410 1445 L1405 1445L1405 1456 L1400 1456L1400 1465 L1395 1465L1395 1470 L1390 1470L1390 1475 L1385 1475L1385 1473 L1380 1473L1380 1473 L1375 1473L1375 1469 L1370 1469L1370 1459 L1365 1459L1365 1453 L1360 1453L1360 1452 L1355 1452L1355 1463 L1350 1463L1350 1446 L1345 1446L1345 1437 L1340 1437L1340 1434 L1335 1434L1335 1428 L1330 1428L1330 1439 L1325 1439L1325 1446 L1320 1446L1320 1464 L1315 1464L1315 1482 L1310 1482L1310 1451 L1305 1451L1305 1432 L1300 1432L1300 1427 L1295 1427L1295 1421 L1290 1421L1290 1424 L1285 1424L1285 1426 L1280 1426L1280 1409 L1275 1409L1275 1396 L1270 1396L1270 1372 L1265 1372L1265 1338 L1260 1338L1260 1324 L1255 1324L1255 1308 L1250 1308L1250 1307 L1245 1307L1245 1302 L1240 1302L1240 1332 L1235 1332L1235 1327 L1230 1327L1230 1330 L1225 1330L1225 1319 L1220 1319L1220 1319 L1215 1319L1215 1274 L1210 1274L1210 1247 L1205 1247L1205 1258 L1200 1258L1200 1260 L1195 1260L1195 1302 L1190 1302L1190 1320 L1185 1320L1185 1359 L1180 1359L1180 1382 L1175 1382L1175 1406 L1170 1406L1170 1425 L1165 1425L1165 1431 L1160 1431L1160 1439 L1155 1439L1155 1423 L1150 1423L1150 1420 L1145 1420L1145 1402 L1140 1402L1140 1396 L1135 1396L1135 1385 L1130 1385L1130 1378 L1125 1378L1125 1381 L1120 1381L1120 1376 L1115 1376L1115 1405 L1110 1405L1110 1403 L1105 1403L1105 1432 L1100 1432L1100 1429 L1095 1429L1095 1420 L1090 1420L1090 1403 L1085 1403L1085 1410 L1080 1410L1080 1413 L1075 1413L1075 1423 L1070 1423L1070 1431 L1065 1431L1065 1445 L1060 1445L1060 1464 L1055 1464L1055 1470 L1050 1470L1050 1447 L1045 1447L1045 1451 L1040 1451L1040 1450 L1035 1450L1035 1455 L1030 1455L1030 1450 L1025 1450L1025 1443 L1020 1443L1020 1445 L1015 1445L1015 1444 L1010 1444L1010 1417 L1005 1417L1005 1412 L1000 1412L1000 1419 L995 1419L995 1425 L990 1425L990 1426 L985 1426L985 1404 L980 1404L980 1399 L975 1399L975 1405 L970 1405L970 1404 L965 1404L965 1414 L960 1414L960 1413 L955 1413L955 1412 L950 1412L950 1405 L945 1405L945 1404 L940 1404L940 1403 L935 1403L935 1403 L930 1403L930 1403 L925 1403L925 1415 L920 1415L920 1412 L915 1412L915 1395 L910 1395L910 1405 L905 1405L905 1418 L900 1418L900 1429 L895 1429L895 1438 L890 1438L890 1441 L885 1441L885 1435 L880 1435L880 1431 L875 1431L875 1431 L870 1431L870 1423 L865 1423L865 1419 L860 1419L860 1428 L855 1428L855 1441 L850 1441L850 1436 L845 1436L845 1425 L840 1425L840 1420 L835 1420L835 1412 L830 1412L830 1428 L825 1428L825 1443 L820 1443L820 1437 L815 1437L815 1449 L810 1449L810 1447 L805 1447L805 1430 L800 1430L800 1413 L795 1413L795 1387 L790 1387L790 1302 L785 1302L785 1301 L780 1301L780 1348 L775 1348L775 1398 L770 1398L770 1408 L765 1408L765 1408 L760 1408L760 1409 L755 1409L755 1419 L750 1419L750 1427 L745 1427L745 1429 L740 1429L740 1417 L735 1417L735 1405 L730 1405L730 1409 L725 1409L725 1411 L720 1411L720 1414 L715 1414L715 1420 L710 1420L710 1395 L705 1395L705 1384 L700 1384L700 1397 L695 1397L695 1419 L690 1419L690 1413 L685 1413L685 1392 L680 1392L680 1386 L675 1386L675 1372 L670 1372L670 1388 L665 1388L665 1399 L660 1399L660 1369 L655 1369L655 1362 L650 1362L650 1367 L645 1367L645 1391 L640 1391L640 1392 L635 1392L635 1364 L630 1364L630 1379 L625 1379L625 1358 L620 1358L620 1368 L615 1368L615 1378 L610 1378L610 1384 L605 1384L605 1372 L600 1372L600 1363 L595 1363L595 1368 L590 1368L590 1393 L585 1393L585 1387 L580 1387L580 1374 L575 1374L575 1372 L570 1372L570 1365 L565 1365L565 1365 L560 1365L560 1359 L555 1359L555 1348 L550 1348L550 1344 L545 1344L545 1355 L540 1355L540 1366 L535 1366L535 1369 L530 1369L530 1368 L525 1368L525 1361 L520 1361L520 1379 L515 1379L515 1357 L510 1357L510 1356 L505 1356L505 1323 L500 1323L500 1295 L495 1295L495 1267 L490 1267L490 1243 L485 1243L485 1208 L480 1208L480 1225 L475 1225L475 1252 L470 1252L470 1315 L465 1315L465 1300 L460 1300L460 1276 L455 1276L455 1277 L450 1277L450 1303 L445 1303L445 1315 L440 1315L440 1302 L435 1302L435 1282 L430 1282L430 1306 L425 1306L425 1322 L420 1322L420 1287 L415 1287L415 1270 L410 1270L410 1256 L405 1256L405 1269 L400 1269L400 1267 L395 1267L395 1233 L390 1233L390 1248 L385 1248L385 1230 L380 1230L380 1244 L375 1244L375 1287 L370 1287L370 1243 L365 1243L365 1225 L360 1225L360 1219 L355 1219L355 1219 L350 1219L350 1217 L345 1217L345 1195 L340 1195L340 1185 L335 1185L335 1169 L330 1169L330 1159 L325 1159L325 1182 L320 1182L320 1203 L315 1203L315 1189 L310 1189L310 1168 L305 1168L305 1168 L300 1168Z" fill="#000"/>
<rect x="480" y="1014" width="7" height="21" fill="#000"/><rect x="475" y="1035" width="15" height="165" fill="#000"/>
<rect x="670" y="1074" width="5" height="332" fill="#fff"/><rect x="663" y="836" width="14" height="238" fill="#000"/><rect x="670" y="1074" width="5" height="262" fill="#fff"/><rect x="663" y="1074" width="7" height="262" fill="#4a4a4a"/><rect x="675" y="1074" width="8" height="262" fill="#4a4a4a"/>
<rect x="782" y="1166" width="8" height="34" fill="#000"/><rect x="775" y="1200" width="18" height="90" fill="#000"/><rect x="770" y="1290" width="26" height="80" fill="#000"/>
<rect x="946" y="1056" width="13" height="382" fill="#fff"/><rect x="947" y="639" width="10" height="81" fill="#000"/><rect x="945" y="720" width="15" height="61" fill="#000"/><rect x="951" y="781" width="4" height="275" fill="#fff"/><rect x="944" y="781" width="7" height="275" fill="#4a4a4a"/><rect x="955" y="781" width="7" height="275" fill="#4a4a4a"/><rect x="946" y="1056" width="13" height="312" fill="#fff"/><rect x="939" y="1056" width="7" height="312" fill="#4a4a4a"/><rect x="959" y="1056" width="8" height="312" fill="#4a4a4a"/>
<rect x="1236" y="1157" width="6" height="93" fill="#000"/>
<rect x="1421" y="1257" width="11" height="73" fill="#000"/><rect x="1417" y="1330" width="22" height="70" fill="#000"/>
<rect x="1530" y="1295" width="9" height="45" fill="#000"/><rect x="1524" y="1340" width="18" height="60" fill="#000"/>
<rect x="1645" y="1257" width="5" height="215" fill="#fff"/><rect x="1644" y="1128" width="8" height="22" fill="#000"/><rect x="1638" y="1150" width="19" height="107" fill="#000"/><rect x="1645" y="1257" width="5" height="143" fill="#fff"/><rect x="1637" y="1257" width="8" height="143" fill="#4a4a4a"/><rect x="1650" y="1257" width="10" height="143" fill="#4a4a4a"/>
<rect x="1682" y="1343" width="6" height="77" fill="#000"/>
<rect x="1736" y="1327" width="12" height="103" fill="#000"/>
<rect x="1822" y="1165" width="7" height="289" fill="#fff"/><rect x="1821" y="1058" width="9" height="32" fill="#000"/><rect x="1815" y="1090" width="21" height="75" fill="#000"/><rect x="1822" y="1165" width="7" height="228" fill="#fff"/><rect x="1815" y="1165" width="7" height="228" fill="#4a4a4a"/><rect x="1829" y="1165" width="10" height="228" fill="#4a4a4a"/>
<rect x="1084" y="1290" width="6" height="60" fill="#000"/>
<rect x="1197" y="1084" width="7" height="46" fill="#000"/><rect x="1193" y="1130" width="15" height="70" fill="#000"/>
<rect x="1421" y="1257" width="11" height="128" fill="#000"/>
<path d="M1003 593H1475" fill="none" stroke="#3030ff" stroke-width="7" stroke-dasharray="17 12.4" stroke-dashoffset="-3"/>
<path d="M1006 1471H1475" fill="none" stroke="#3030ff" stroke-width="7" stroke-dasharray="17 12.4" stroke-dashoffset="10.5"/>
<path d="M1006 610V1460M1475 610V1460" fill="none" stroke="#3030ff" stroke-width="8" stroke-dasharray="10 19.4"/>
<rect x="299.0" y="62.0" width="2083.5" height="1540.5" fill="none" stroke="#000" stroke-width="12"/>
<rect x="455.0" y="1571" width="10" height="28" fill="#000"/>
<rect x="615.8" y="1584" width="9" height="15" fill="#000"/>
<rect x="775.5" y="1571" width="10" height="28" fill="#000"/>
<rect x="936.2" y="1584" width="9" height="15" fill="#000"/>
<rect x="1096.0" y="1571" width="10" height="28" fill="#000"/>
<rect x="1256.8" y="1584" width="9" height="15" fill="#000"/>
<rect x="1416.5" y="1571" width="10" height="28" fill="#000"/>
<rect x="1577.2" y="1584" width="9" height="15" fill="#000"/>
<rect x="1737.0" y="1571" width="10" height="28" fill="#000"/>
<rect x="1897.7" y="1584" width="9" height="15" fill="#000"/>
<rect x="2057.5" y="1571" width="10" height="28" fill="#000"/>
<rect x="2218.2" y="1584" width="9" height="15" fill="#000"/>
<text class="s" transform="translate(229 1160) rotate(-90)" font-size="88" textLength="547" lengthAdjust="spacing">Intensity (a.u.)</text>
<text class="m" x="1724.7" y="197.5" font-size="82">•</text>
<text class="s" font-size="74"><tspan x="1767" y="192" letter-spacing="6">Fe</tspan><tspan x="1849" y="219" font-size="70">3</tspan><tspan x="1892" y="192">O</tspan><tspan x="1951" y="219" font-size="70">4</tspan></text>
<text class="m" x="1731.0" y="319.5" font-size="76">♦</text>
<text class="s" x="1792" y="321" font-size="74">C</text>
<text class="s" font-size="74"><tspan x="1331" y="515" letter-spacing="8">Fe</tspan><tspan x="1411" y="549" font-size="70">x</tspan><tspan x="1456" y="515">C</tspan></text>
<text class="m" x="651.0" y="292.4" font-size="72">♦</text>
<text class="m" x="940.0" y="361.8" font-size="74">•</text>
<text class="m" x="767.0" y="700.8" font-size="74">•</text>
<text class="m" x="1517.0" y="802.8" font-size="74">•</text>
<text class="m" x="1629.0" y="672.8" font-size="74">•</text>
<text class="m" x="1807.0" y="603.8" font-size="74">•</text>
</g>
<g id="chart-b">
<line x1="857" y1="2266" x2="857" y2="2421" stroke="#ff00ff" stroke-width="12" stroke-dasharray="27 17"/>
<line x1="1011" y1="1904" x2="1011" y2="2064" stroke="#ff00ff" stroke-width="12" stroke-dasharray="27 17"/>
<line x1="1526" y1="2356" x2="1526" y2="2515" stroke="#ff00ff" stroke-width="12" stroke-dasharray="27 17"/>
<line x1="1746" y1="2730" x2="1746" y2="2891" stroke="#ff00ff" stroke-width="12" stroke-dasharray="27 17"/>
<line x1="766" y1="2975" x2="766" y2="3135" stroke="#ff00ff" stroke-width="12" stroke-dasharray="27 17"/>
<line x1="1128" y1="2878" x2="1128" y2="3037" stroke="#ff00ff" stroke-width="12" stroke-dasharray="27 17"/>
<polyline points="160,2490 650,2490 657,2485 730,2484 752,2477 785,2466 813,2446 836,2412 850,2373 858,2351 870,2334 886,2325 898,2294 915,2233 931,2165 948,2103 965,2047 982,2002 993,1994 1013,1980 1027,1997 1038,2047 1049,2115 1058,2182 1066,2249 1078,2317 1089,2367 1100,2407 1117,2440 1139,2466 1173,2474 1196,2483 1218,2485 1285,2486 1291,2491 1455,2491 1463,2488 1482,2476 1534,2476 1540,2481 1619,2481 1624,2485 1660,2485 1668,2490 2403,2490" fill="none" stroke="#000" stroke-width="9" stroke-linejoin="round" stroke-linecap="butt"/>
<polyline points="160,3260 500,3260 555,3256 595,3250 625,3242 650,3232 668,3216 691,3177 717,3131 737,3092 750,3060 760,3055 776,3055 789,3079 808,3125 828,3164 847,3180 867,3181 900,3167 930,3145 960,3115 990,3080 1015,3040 1040,3005 1065,2980 1090,2957 1110,2950 1150,2950 1170,2957 1200,2965 1225,2980 1260,3007 1290,3027 1315,3050 1334,3082 1359,3115 1379,3135 1394,3143 1409,3142 1424,3120 1439,3090 1459,3065 1484,3047 1509,3015 1534,2980 1559,2937 1589,2890 1614,2865 1645,2842 1671,2826 1700,2808 1742,2803 1775,2800 1801,2795 1824,2790 1853,2806 1885,2826 1918,2849 1957,2878 2002,2914 2035,2940 2067,2956 2100,2967 2132,2973 2191,2973 2230,2980 2288,2983 2327,2988 2360,2992 2403,2993" fill="none" stroke="#ff0000" stroke-width="9" stroke-linejoin="round" stroke-linecap="butt"/>
<rect x="160" y="1835" width="2243" height="1470" fill="none" stroke="#000" stroke-width="12"/>
<rect x="160" y="2568" width="2243" height="12" fill="#000"/>
<rect x="404.2" y="3273" width="10" height="28" fill="#000"/>
<rect x="653.9" y="3288" width="9" height="13" fill="#000"/>
<rect x="902.7" y="3273" width="10" height="28" fill="#000"/>
<rect x="1152.4" y="3288" width="9" height="13" fill="#000"/>
<rect x="1401.1" y="3273" width="10" height="28" fill="#000"/>
<rect x="1650.8" y="3288" width="9" height="13" fill="#000"/>
<rect x="1899.5" y="3273" width="10" height="28" fill="#000"/>
<rect x="2149.3" y="3288" width="9" height="13" fill="#000"/>
<text class="s" transform="translate(85 2851.5) rotate(-90)" font-size="82" textLength="549" lengthAdjust="spacing">MS signal (a.u.)</text>
<rect x="1591" y="1873" width="738" height="101" fill="#fff" stroke="#222" stroke-width="5"/>
<line x1="1601" y1="1925" x2="1778" y2="1925" stroke="#000" stroke-width="10"/>
<rect x="1603" y="2595" width="736" height="100" fill="#fff" stroke="#222" stroke-width="5"/>
<line x1="1618" y1="2647" x2="1789" y2="2647" stroke="#ff0000" stroke-width="10"/>
</g>
<g id="labels">
<text id="t-a" class="s" x="343.3" y="168.0" font-size="86.2" textLength="116.4" lengthAdjust="spacing">(a)</text>
<text id="t-used" class="s" x="2166.0" y="176.1" font-size="88.0" textLength="174.0" lengthAdjust="spacing">used</text>
<text id="t-io450" class="s" x="2008.2" y="773.0" font-size="73.0" textLength="330.1" lengthAdjust="spacing">IO-450 °C</text>
<text id="t-io350" class="s" x="2001.3" y="1339.0" font-size="73.0" textLength="337.1" lengthAdjust="spacing">IO-350 °C</text>
<text id="t-b" class="s" x="198.4" y="1949.8" font-size="97.8" textLength="116.8" lengthAdjust="spacing">(b)</text>
<text id="t-me" class="s" x="192.2" y="2086.2" font-size="94.0" textLength="296.3" lengthAdjust="spacing">m/e=15</text>
<text id="t-t385" class="s" x="554.2" y="2282.1" font-size="72.0" textLength="265.2" lengthAdjust="spacing">385.6 °C</text>
<text id="t-t441" class="s" x="1038.0" y="1958.1" font-size="72.0" textLength="264.1" lengthAdjust="spacing">441.2 °C</text>
<text id="t-t650" class="s" x="1536.2" y="2394.1" font-size="72.0" textLength="262.2" lengthAdjust="spacing">650.0 °C</text>
<text id="t-t737" class="s" x="1463.3" y="2776.1" font-size="72.0" textLength="261.2" lengthAdjust="spacing">737.1 °C</text>
<text id="t-t342" class="s" x="468.2" y="3036.1" font-size="72.0" textLength="270.2" lengthAdjust="spacing">342.5 °C</text>
<text id="t-t488" class="s" x="857.0" y="2922.1" font-size="72.0" textLength="262.1" lengthAdjust="spacing">488.9 °C</text>
<text id="t-leg1" class="s" x="1792.2" y="1947.1" font-size="74.4" textLength="521.9" lengthAdjust="spacing">IO-350 °C-used</text>
<text id="t-leg2" class="s" x="1802.2" y="2668.1" font-size="74.4" textLength="518.9" lengthAdjust="spacing">IO-450 °C-used</text>
<text id="t-k200" class="s" x="351.2" y="3396.0" font-size="71.0" textLength="110.6" lengthAdjust="spacing">200</text>
<text id="t-k400" class="s" x="849.0" y="3396.0" font-size="71.0" textLength="107.4" lengthAdjust="spacing">400</text>
<text id="t-k600" class="s" x="1348.1" y="3396.0" font-size="71.0" textLength="107.6" lengthAdjust="spacing">600</text>
<text id="t-k800" class="s" x="1849.1" y="3396.0" font-size="71.0" textLength="102.6" lengthAdjust="spacing">800</text>
<text id="t-k1000" class="s" x="2325.5" y="3396.0" font-size="71.0" textLength="143.0" lengthAdjust="spacing">1000</text>
<text id="t-temp" class="s" x="978.0" y="3526.0" font-size="80.0" textLength="611.9" lengthAdjust="spacing">Temperature (℃)</text>
<text id="t-x20" class="n" x="427.1" y="1680.1" font-size="56.0" textLength="58.0" lengthAdjust="spacing">20</text>
<text id="t-x30" class="n" x="751.1" y="1680.1" font-size="56.0" textLength="58.0" lengthAdjust="spacing">30</text>
<text id="t-x40" class="n" x="1070.0" y="1680.1" font-size="56.0" textLength="58.0" lengthAdjust="spacing">40</text>
<text id="t-x50" class="n" x="1390.1" y="1680.1" font-size="56.0" textLength="58.0" lengthAdjust="spacing">50</text>
<text id="t-x60" class="n" x="1708.1" y="1680.1" font-size="56.0" textLength="58.0" lengthAdjust="spacing">60</text>
<text id="t-x70" class="n" x="2033.1" y="1680.1" font-size="56.0" textLength="58.0" lengthAdjust="spacing">70</text>
<text id="t-x80" class="n" x="2350.1" y="1680.1" font-size="56.0" textLength="58.0" lengthAdjust="spacing">80</text>
<text id="t-theta" class="n" x="1190.2" y="1762.0" font-size="72.0" textLength="169.2" lengthAdjust="spacing">2θ (°)</text>
</g>
</svg></body></html>
